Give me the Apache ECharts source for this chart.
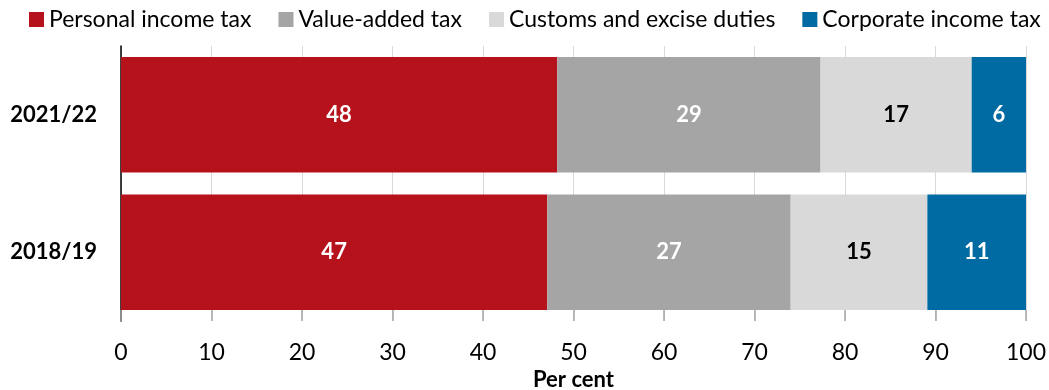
<!DOCTYPE html>
<html>
<head>
<meta charset="utf-8">
<script src="https://cdn.jsdelivr.net/npm/echarts@6/dist/echarts.min.js"></script>
<style>
  html, body { margin: 0; padding: 0; background: #fff; }
  #myChart { width: 1049px; height: 390px; }
</style>
</head>
<body>
<div id="myChart"></div>
<script>
// tax shares, per cent
var years = ['2018/19', '2021/22'];
var seriesNames = ['Personal income tax', 'Value-added tax', 'Customs and excise duties', 'Corporate income tax'];
var personalIncome = [47.1, 48.2];
var valueAdded = [26.9, 29.1];
var customsExcise = [15.1, 16.7];
var corporateIncome = [10.9, 6.0];
var xTicks = [0, 10, 20, 30, 40, 50, 60, 70, 80, 90, 100];

var colors = ['#B5121B', '#A5A5A5', '#D9D9D9', '#006BA2'];
var labelColors = ['#fff', '#fff', '#000', '#fff'];
var font = 'Lato, "Open Sans", sans-serif';

var myChart = echarts.init(document.getElementById('myChart'));

function makeSeries(i, data) {
    return {
        name: seriesNames[i],
        type: 'bar',
        stack: 'total',
        barCategoryGap: '16%',
        data: data,
        itemStyle: { color: colors[i] },
        label: {
            show: true,
            position: 'inside',
            color: labelColors[i],
            fontFamily: font,
            fontWeight: 'bold',
            fontSize: 22,
            formatter: function(p) { return Math.round(p.value); }
        }
    };
}

var option = {
    animation: false,
    textStyle: { fontFamily: font },
    legend: {
        top: 3,
        left: 24,
        itemWidth: 15,
        itemHeight: 15,
        itemGap: 27,
        icon: 'rect',
        textStyle: { fontSize: 23, color: '#000', fontFamily: font },
        data: seriesNames
    },
    grid: { left: 121, right: 23, top: 46, bottom: 69, outerBoundsMode: 'none' },
    xAxis: {
        type: 'value',
        min: 0,
        max: 100,
        interval: 10,
        name: 'Per cent',
        nameLocation: 'middle',
        nameGap: 46,
        nameTextStyle: { fontSize: 22, fontWeight: 'bold', color: '#000', fontFamily: font },
        axisLine: { show: false },
        axisTick: { show: true, inside: true, length: 11, lineStyle: { color: '#A6A6A6', width: 1.5 } },
        axisLabel: {
            fontSize: 23, color: '#000', margin: 20, fontFamily: font,
            formatter: function(v) { return xTicks.indexOf(v) >= 0 ? v : ''; }
        },
        splitLine: { show: true, lineStyle: { color: '#D9D9D9', width: 1 } }
    },
    yAxis: {
        type: 'category',
        data: years,
        axisLine: { show: true, lineStyle: { color: '#000', width: 1.5 } },
        axisTick: { show: false },
        axisLabel: { fontSize: 22, fontWeight: 'bold', color: '#000', margin: 24, fontFamily: font }
    },
    series: [
        makeSeries(0, personalIncome),
        makeSeries(1, valueAdded),
        makeSeries(2, customsExcise),
        makeSeries(3, corporateIncome)
    ]
};
myChart.setOption(option);
</script>
</body>
</html>
